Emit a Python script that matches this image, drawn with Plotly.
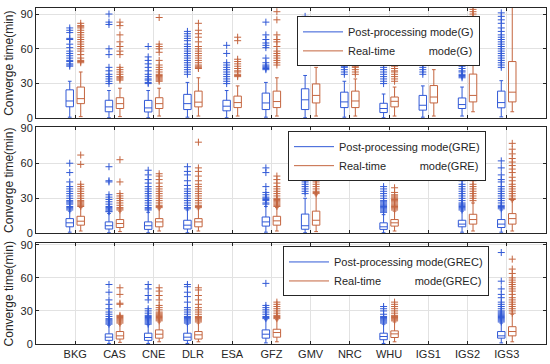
import plotly.graph_objects as go

# ---------------- data ----------------
categories = ["BKG", "CAS", "CNE", "DLR", "ESA", "GFZ", "GMV", "NRC", "WHU", "IGS1", "IGS2", "IGS3"]
y_ticks = [0, 30, 60, 90]

# ---- G ----
G_post_q1 = [10, 5.7, 5.5, 7.6, 6.5, 7.6, 7.6, 9.3, 5, 7.1, 8.5, 9.1]
G_post_med = [15, 9.9, 9, 12.7, 10.5, 13.3, 16, 14.2, 8.5, 11.3, 11.9, 13.6]
G_post_q3 = [24.6, 15.6, 15.5, 20.7, 15.6, 21.8, 25.5, 22.6, 13, 19.8, 17.6, 23.5]
G_post_lo = [1, 0.5, 0.5, 1, 0.5, 1, 0.5, 1, 0.5, 1, 2, 1.3]
G_post_hi = [32, 24, 24, 31, 24, 31, 37, 32, 21, 28, 27, 32.5]
G_post_out = [
    [78, 76, 74, 69, 68, 64, 61, 58, 56, 54, 52, 50, 49, 47, 46, 45],
    [90, 83, 81, 60, 55, 44, 41, 38, 36, 34, 32, 30],
    [62, 53, 50, 47, 44, 41, 38, 36, 34, 33, 31, 30],
    [75, 73, 71, 69, 67, 64, 62, 60, 58, 56, 54, 52, 50, 48, 46, 44, 42, 40, 38],
    [63, 56, 48, 46, 44, 42, 40, 38, 36, 34, 32, 30],
    [83, 72, 68, 65, 63, 61, 52, 48, 46, 45, 44, 43, 42],
    [51, 62, 70, 80, 88],
    [58, 56, 55, 54, 53, 52, 51, 50, 49, 48, 47, 46, 45, 44, 42, 40, 38],
    [54, 52, 50, 48, 46, 44, 42, 40, 38, 36, 34, 32, 30],
    [74, 70, 66, 64, 60, 58, 55, 52, 50, 48, 46, 44, 42, 40, 38],
    [78, 70, 66, 62, 57, 55, 53, 51, 49, 47, 45, 43, 41, 40, 38, 37, 36, 35],
    [91, 88, 85, 82, 78, 75, 72, 70, 68, 66, 64, 62, 60, 58, 56, 54, 52, 50, 48, 46, 44],
]
G_rt_q1 = [12.7, 8.5, 8.5, 9.9, 9.3, 9.3, 13.3, 9.3, 9.9, 13.3, 14.2, 14.2]
G_rt_med = [17, 12.7, 12.7, 14, 13.6, 14.5, 19.8, 15, 14.7, 18.4, 19.8, 22.6]
G_rt_q3 = [27, 17.8, 17.8, 23.5, 19.2, 23.5, 29.7, 23.5, 18.4, 28.3, 38.2, 49]
G_rt_lo = [1.5, 1.5, 2, 2, 2, 2, 2, 2, 2, 2, 5.7, 5.7]
G_rt_hi = [40, 26, 26, 35, 28, 35, 44, 34, 27, 42, 80, 96]
G_rt_out = [
    [82, 80, 79, 78, 76, 74, 72, 70, 68, 66, 64, 62, 60, 58, 55, 52, 50, 49, 48],
    [83, 80, 72, 66, 62, 58, 55, 44, 42, 40, 38, 36, 35, 34, 33],
    [87, 64, 62, 60, 57, 50, 46, 44, 42, 40, 38, 37, 36, 35, 34, 33, 32],
    [82, 76, 73, 70, 66, 62, 60, 58, 56, 54, 52, 50, 48, 46, 45, 44, 43],
    [70, 67, 51, 49, 47, 45, 43, 41, 40, 38, 37, 36],
    [92, 85, 72, 68, 66, 62, 58, 56, 54, 52, 50, 48, 46],
    [63, 60, 58, 56, 54, 52],
    [58, 57, 56, 55, 54, 53, 52, 51, 50, 49, 48, 47, 46, 45, 44, 42, 40, 38],
    [62, 58, 55, 53, 51, 49, 47, 45, 43, 41, 40, 38, 36, 34, 32],
    [78, 72, 70, 68, 66, 64, 62, 60, 58, 56, 55],
    [94, 92, 90, 88, 86, 84, 83],
    [],
]

# ---- GRE ----
GRE_post_q1 = [5.6, 3.7, 3.4, 3.7, None, 6.2, 3.5, None, 3.4, None, 5.6, 5]
GRE_post_med = [9, 6.5, 6.5, 7, None, 9.8, 6.5, None, 5.6, None, 7.9, 7.9]
GRE_post_q3 = [12.6, 9.8, 9.8, 11.2, None, 14, 16.5, None, 9, None, 11.2, 11.8]
GRE_post_lo = [1, 0.5, 0.5, 0.5, None, 1, 0.5, None, 0.5, None, 1, 1]
GRE_post_hi = [19, 17, 18, 20, None, 23, 30, None, 16, None, 19, 20]
GRE_post_out = [
    [60, 52, 44, 40, 38, 36, 34, 32, 30, 28, 27, 26, 25, 23, 22, 21, 20],
    [57, 45, 44, 33, 31, 29, 27, 25, 23, 22, 21, 20, 19, 18.5],
    [54, 50, 46, 43, 40, 38, 36, 34, 32, 30, 28, 26, 24, 22, 21, 20],
    [57, 53, 50, 45, 41, 38, 36, 34, 32, 30, 28, 26, 24, 22, 21],
    [],
    [56, 52, 40, 35, 33, 31, 30, 29, 28, 26, 25],
    [56, 52, 48, 46, 44, 42, 40, 38, 36, 34],
    [],
    [59, 56, 40, 38, 36, 34, 32, 30, 28, 27, 26, 25, 24, 23, 22, 21, 20, 19, 18],
    [],
    [53, 50, 48, 45, 42, 40, 38, 36, 34, 32, 30, 28, 26, 25, 24, 23, 22, 21, 20],
    [62, 56, 50, 46, 44, 40, 38, 36, 34, 32, 30, 28, 26, 24, 23, 22, 21],
]
GRE_rt_q1 = [7, 5, 5.6, 5.6, None, 7, 7, None, 6.2, None, 7.9, 7.9]
GRE_rt_med = [10.4, 8.4, 9.8, 9.8, None, 10.7, 11.2, None, 9, None, 11.8, 12.6]
GRE_rt_q3 = [14.6, 11.8, 12.6, 12.6, None, 14.6, 19, None, 11.8, None, 16.3, 16.9]
GRE_rt_lo = [2, 1.5, 2, 2, None, 2, 1.5, None, 2, None, 2, 2]
GRE_rt_hi = [22, 19, 21, 21, None, 22, 33, None, 19, None, 26, 28]
GRE_rt_out = [
    [67, 59, 42, 40, 38, 36, 34, 32, 30, 28, 27, 26, 25, 24, 23],
    [63, 44, 34, 32, 30, 28, 26, 24, 22, 21, 20],
    [51, 49, 46, 43, 40, 38, 36, 34, 32, 30, 28, 26, 24, 23, 22],
    [78, 56, 53, 49, 45, 42, 40, 38, 36, 34, 32, 30, 28, 26, 24, 23, 22],
    [],
    [49, 46, 43, 40, 38, 36, 34, 32, 30, 29, 28, 27, 26, 25, 24, 23],
    [56, 52, 48, 46, 44, 42, 40, 38, 36, 35, 34],
    [],
    [39, 35, 33, 32, 31, 30, 29, 28, 27, 26, 25, 24, 23, 22, 21, 20],
    [],
    [77, 73, 68, 65, 62, 58, 55, 52, 48, 45, 42, 40, 38, 36, 34, 32, 30, 28],
    [77, 72, 68, 64, 61, 58, 55, 52, 48, 45, 42, 40, 38, 36, 34, 32, 30, 29],
]

# ---- GREC ----
GREC_post_q1 = [None, 3.3, 3.3, 3.3, None, 5.3, None, None, 3.9, None, None, 5.3]
GREC_post_med = [None, 6.2, 5.9, 6.2, None, 8.9, None, None, 6.8, None, None, 7.4]
GREC_post_q3 = [None, 9.2, 9.8, 9.8, None, 12.8, None, None, 9.8, None, None, 11.3]
GREC_post_lo = [None, 0.5, 0.5, 0.5, None, 1, None, None, 0.5, None, None, 1]
GREC_post_hi = [None, 17, 17.5, 18, None, 22, None, None, 18, None, None, 19]
GREC_post_out = [
    [],
    [54, 47, 40, 36, 32, 29, 27, 25, 23, 22, 21, 20, 19, 18],
    [54, 50, 44, 40, 32, 30, 28, 26, 25, 24, 23, 22, 21, 20, 19, 18],
    [54, 52, 47, 43, 38, 33, 31, 29, 27, 25, 24, 23, 22, 21, 20, 19],
    [],
    [55, 35, 33, 31, 29, 27, 25, 24, 23],
    [],
    [],
    [52, 34, 32, 30, 27, 25, 24, 23, 22, 21, 20, 19],
    [],
    [],
    [83, 57, 50, 45, 42, 38, 36, 34, 32, 30, 29, 28, 27, 26, 25, 24, 23, 22, 21, 20],
]
GREC_rt_q1 = [None, 4.5, 5.3, 4.5, None, 6.2, None, None, 5.9, None, None, 7.4]
GREC_rt_med = [None, 7.4, 8.9, 8.3, None, 10.4, None, None, 9.2, None, None, 11.3]
GREC_rt_q3 = [None, 11.3, 12.8, 11.3, None, 13.4, None, None, 11.9, None, None, 15.7]
GREC_rt_lo = [None, 1.5, 2, 2, None, 2, None, None, 2, None, None, 2]
GREC_rt_hi = [None, 18, 20, 19, None, 22, None, None, 20, None, None, 27]
GREC_rt_out = [
    [],
    [51, 45, 37, 36, 26, 25, 24, 23, 22, 21, 20, 19],
    [51, 48, 44, 40, 35, 33, 31, 29, 28, 27, 26, 25, 24, 23, 22, 21],
    [51, 49, 44, 40, 36, 33, 31, 29, 27, 25, 24, 23, 22, 21, 20],
    [],
    [38, 36, 34, 32, 30, 28, 26, 25, 24, 23],
    [],
    [],
    [38, 36, 34, 32, 30, 28, 26, 25, 24, 23, 22, 21],
    [],
    [],
    [77, 68, 64, 60, 58, 56, 54, 52, 50, 48, 45, 42, 40, 38, 36, 34, 32, 30, 28],
]

systems = ["G", "GRE", "GREC"]

# ---------------- style ----------------
BLUE = "#3159d6"
RED = "#c4653f"
AXIS = "#262626"
GRID = "#e2e2e2"
FONT = "Liberation Sans, Arial, sans-serif"
OFFSET = 0.14
BOX_W = 0.19

series = {
    "G": [(G_post_q1, G_post_med, G_post_q3, G_post_lo, G_post_hi, G_post_out),
          (G_rt_q1, G_rt_med, G_rt_q3, G_rt_lo, G_rt_hi, G_rt_out)],
    "GRE": [(GRE_post_q1, GRE_post_med, GRE_post_q3, GRE_post_lo, GRE_post_hi, GRE_post_out),
            (GRE_rt_q1, GRE_rt_med, GRE_rt_q3, GRE_rt_lo, GRE_rt_hi, GRE_rt_out)],
    "GREC": [(GREC_post_q1, GREC_post_med, GREC_post_q3, GREC_post_lo, GREC_post_hi, GREC_post_out),
             (GREC_rt_q1, GREC_rt_med, GREC_rt_q3, GREC_rt_lo, GREC_rt_hi, GREC_rt_out)],
}

fig = go.Figure()
NB = "\u00a0"
for s_idx, sysname in enumerate(systems):
    ax_suffix = "" if s_idx == 0 else str(s_idx + 1)
    xref = "x" + ax_suffix
    yref = "y" + ax_suffix
    legname = "legend" + ax_suffix
    for m_idx, (q1, med, q3, lo, hi, outs) in enumerate(series[sysname]):
        color = BLUE if m_idx == 0 else RED
        off = -OFFSET if m_idx == 0 else OFFSET
        idx = [i for i in range(len(categories)) if q1[i] is not None]
        fig.add_trace(go.Box(
            x=[i + 1 + off for i in idx],
            q1=[q1[i] for i in idx], median=[med[i] for i in idx], q3=[q3[i] for i in idx],
            lowerfence=[lo[i] for i in idx], upperfence=[hi[i] for i in idx],
            width=BOX_W, boxpoints=False, whiskerwidth=0.5,
            line=dict(color=color, width=1), fillcolor="rgba(0,0,0,0)",
            showlegend=False, xaxis=xref, yaxis=yref, hoverinfo="skip",
        ))
        ox, oy = [], []
        for i, vals in enumerate(outs):
            for v in vals:
                ox.append(i + 1 + off)
                oy.append(v)
        fig.add_trace(go.Scatter(
            x=ox, y=oy, mode="markers",
            marker=dict(symbol="cross-thin", size=5, color=color, line=dict(width=1, color=color)),
            showlegend=False, xaxis=xref, yaxis=yref, hoverinfo="skip",
        ))
    # legend entries (line samples)
    post_name = "Post-processing mode(" + sysname + ")"
    rt_name = "Real-time" + NB * 11 + "mode(" + sysname + ")"
    for name, color in [(post_name, BLUE), (rt_name, RED)]:
        fig.add_trace(go.Scatter(
            x=[None], y=[None], mode="lines", line=dict(color=color, width=1),
            name=name, legend=legname, xaxis=xref, yaxis=yref, showlegend=True,
        ))

ML, MR, MT, MB = 36, 4, 3, 20
W, H = 550, 364
PH = H - MT - MB

def frac(py):
    return (H - MB - py) / PH

y_domains = [[frac(115), 1.0], [frac(231.7), frac(124)], [0.0, frac(242)]]
y_ranges = [[0, 95.2], [0, 90.8], [0, 91.2]]

axis_common = dict(
    showline=True, linecolor=AXIS, linewidth=1, mirror="ticks",
    ticks="inside", ticklen=3, tickcolor=AXIS,
    showgrid=True, gridcolor=GRID, gridwidth=1, zeroline=False,
    tickfont=dict(family=FONT, size=11, color=AXIS),
)

layout = dict(
    width=W, height=H,
    margin=dict(l=ML, r=MR, t=MT, b=MB),
    paper_bgcolor="white", plot_bgcolor="white",
    font=dict(family=FONT, size=11, color=AXIS),
    hovermode=False,
)
for s_idx in range(3):
    suf = "" if s_idx == 0 else str(s_idx + 1)
    layout["xaxis" + suf] = dict(
        axis_common, domain=[0, 1], anchor="y" + suf, range=[0, 13],
        tickvals=list(range(1, len(categories) + 1)), ticktext=categories,
        showticklabels=(s_idx == 2),
        **({} if s_idx == 0 else {"matches": "x"}),
    )
    layout["yaxis" + suf] = dict(
        axis_common, domain=y_domains[s_idx], anchor="x" + suf, range=y_ranges[s_idx],
        tickvals=y_ticks,
        title=dict(text="Converge time(min)", standoff=4, font=dict(family=FONT, size=12, color=AXIS)),
    )

leg_pos = [((297 - ML) / (W - ML - MR), frac(11.5)),
           ((288 - ML) / (W - ML - MR), frac(128)),
           ((283 - ML) / (W - ML - MR), frac(245))]
for s_idx in range(3):
    suf = "" if s_idx == 0 else str(s_idx + 1)
    lx, ly = leg_pos[s_idx]
    layout["legend" + suf] = dict(
        x=lx, y=ly, xanchor="left", yanchor="top",
        bgcolor="white", bordercolor=AXIS, borderwidth=1,
        font=dict(family=FONT, size=11, color=AXIS),
        tracegroupgap=0, itemwidth=40,
    )

fig.update_layout(**layout)
fig.write_html("out.html", config={"displayModeBar": False, "staticPlot": True},
               post_script="document.body.style.margin='0';")
